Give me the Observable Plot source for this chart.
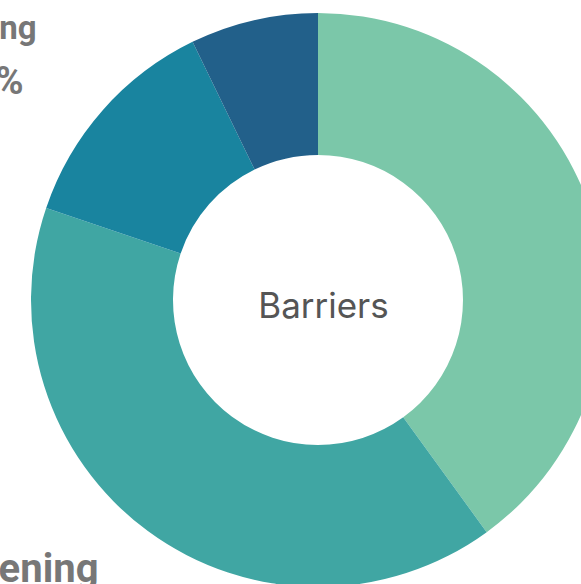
<!DOCTYPE html>
<html><head><meta charset="utf-8">
<script src="https://cdn.jsdelivr.net/npm/d3@7"></script>
<script src="https://cdn.jsdelivr.net/npm/@observablehq/plot@0.6"></script>
<style>html,body{margin:0;padding:0;background:#fff;overflow:hidden}</style>
</head><body><div id="chart"></div>
<script>
// Data
const categories = ["Access", "Screening", "Training", "Cost"];
const shares = [40, 40.2, 12.6, 7.2];
const colors = ["#7bc7a9", "#40a6a3", "#19849f", "#22608a"];
const centerLabel = "Barriers";
const labelNames = ["Training", "Screening"];
const labelPcts = ["13%", "40%"];

const data = categories.map((c, i) => ({category: c, share: shares[i]}));
const colorScale = Plot.scale({color: {type: "ordinal", domain: categories, range: colors}});

function donut(index, scales, values, dimensions) {
  const cx = 318, cy = 300, r0 = 145, r1 = 287;
  const pie = d3.pie().sort(null).value(d => d.share)(data);
  const arc = d3.arc().innerRadius(r0).outerRadius(r1);
  const g = d3.create("svg:g").attr("transform", `translate(${cx},${cy})`);
  g.selectAll("path").data(pie).join("path")
    .attr("d", arc)
    .attr("fill", d => colorScale.apply(d.data.category));
  return g.node();
}

const W = 581, H = 584;
const chart = Plot.plot({
  width: W, height: H, margin: 0,
  x: {axis: null}, y: {axis: null},
  style: {background: "#fff", overflow: "hidden"},
  marks: [
    donut,
    Plot.text([centerLabel], {text: d => d, frameAnchor: "top-left", dx: 323, dy: 317, lineAnchor: "bottom",
      textAnchor: "middle", fontSize: 35, fill: "#555", fontFamily: "Inter", fontWeight: 400}),
    Plot.text([labelNames[0]], {text: d => d, frameAnchor: "top-left", dx: 36, dy: 38, lineAnchor: "bottom",
      textAnchor: "end", fontSize: 33, fill: "#777", fontFamily: "Roboto", fontWeight: 700}),
    Plot.text([labelPcts[0]], {text: d => d, frameAnchor: "top-left", dx: 23, dy: 93, lineAnchor: "bottom",
      textAnchor: "end", fontSize: 38, fill: "#777", fontFamily: "Roboto", fontWeight: 700}),
    Plot.text([labelNames[1]], {text: d => d, frameAnchor: "top-left", dx: 98, dy: 581, lineAnchor: "bottom",
      textAnchor: "end", fontSize: 40, fill: "#777", fontFamily: "Roboto", fontWeight: 700}),
    Plot.text([labelPcts[1]], {text: d => d, frameAnchor: "top-left", dx: 60, dy: 640, lineAnchor: "bottom",
      textAnchor: "end", fontSize: 40, fill: "#777", fontFamily: "Roboto", fontWeight: 700})
  ]
});
document.getElementById("chart").append(chart);
</script>
</body></html>
